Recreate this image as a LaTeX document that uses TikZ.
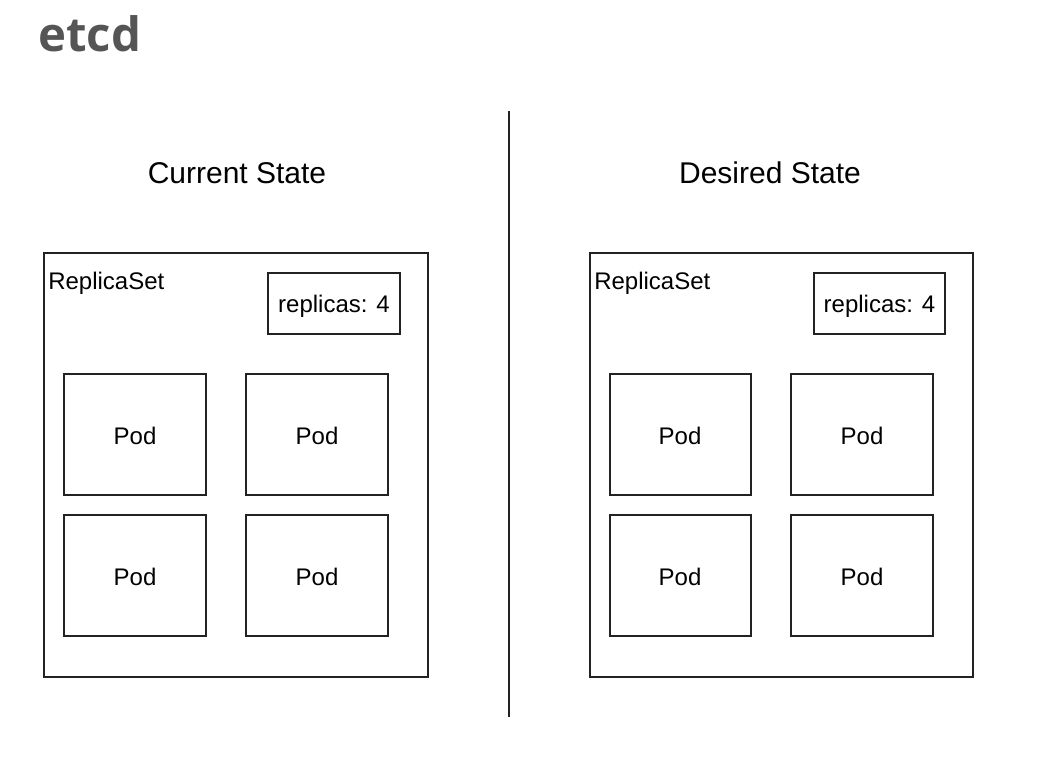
\documentclass[tikz,border=0pt]{standalone}
\usepackage{fontspec}
\setmainfont{Liberation Sans}
\newfontfamily\titlefont{Open Sans}
\definecolor{titlegrey}{HTML}{555555}
\definecolor{linegrey}{HTML}{222222}
\begin{document}
\begin{tikzpicture}[x=0.75pt,y=-0.75pt,
  box/.style={draw=linegrey,line width=1.3pt},
  lbl/.style={font=\fontsize{18pt}{20pt}\selectfont,inner sep=0pt,text height=0.72em,text depth=0.21em},
  head/.style={font=\fontsize{22.5pt}{25pt}\selectfont,inner sep=0pt}]
\useasboundingbox (0,0) rectangle (1049,764);
\node[anchor=base west,inner sep=0pt,text=titlegrey,font=\titlefont\bfseries\fontsize{35.5pt}{38pt}\selectfont] (title) at (38,51) {etcd};
\coordinate (divtop) at (509,111);
\coordinate (divbot) at (509,717);
\draw[draw=linegrey,line width=1.5pt] (divtop) -- (divbot);
\node[head] (curr) at (237,173) {Current State};
\node[head] (des) at (770,173) {Desired State};
% left replicaset
\draw[box] (44,253) rectangle (428,677);
\node[lbl,anchor=base west] (rsL) at (48,289) {ReplicaSet};
\draw[box] (268,273) rectangle (400,334);
\node[lbl] (repL) at (334,309) {replicas: 4};
\draw[box] (64,374) rectangle (206,495);
\draw[box] (246,374) rectangle (388,495);
\draw[box] (64,515) rectangle (206,636);
\draw[box] (246,515) rectangle (388,636);
\node[lbl] (p1) at (135,441) {Pod};
\node[lbl] (p2) at (317,441) {Pod};
\node[lbl] (p3) at (135,582) {Pod};
\node[lbl] (p4) at (317,582) {Pod};
% right replicaset
\draw[box] (590,253) rectangle (973,677);
\node[lbl,anchor=base west] (rsR) at (594,289) {ReplicaSet};
\draw[box] (814,273) rectangle (945,334);
\node[lbl] (repR) at (879.5,309) {replicas: 4};
\draw[box] (610,374) rectangle (751,495);
\draw[box] (791,374) rectangle (933,495);
\draw[box] (610,515) rectangle (751,636);
\draw[box] (791,515) rectangle (933,636);
\node[lbl] (p5) at (680,441) {Pod};
\node[lbl] (p6) at (862,441) {Pod};
\node[lbl] (p7) at (680,582) {Pod};
\node[lbl] (p8) at (862,582) {Pod};
\end{tikzpicture}
\end{document}
